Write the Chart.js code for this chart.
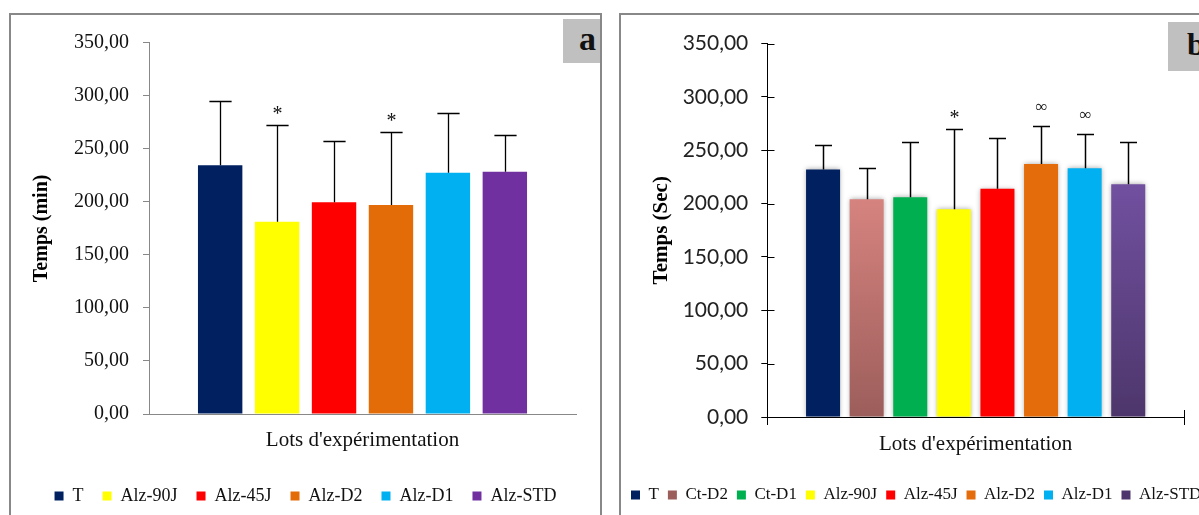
<!DOCTYPE html>
<html>
<head>
<meta charset="utf-8">
<script src="https://cdn.jsdelivr.net/npm/chart.js@4/dist/chart.umd.min.js"></script>
<style>
  html, body { margin: 0; padding: 0; background: #fff; overflow: hidden; width: 1199px; height: 515px; }
  .frame { position: absolute; border: 2px solid #888; box-sizing: border-box; }
  .tag { position: absolute; background: #c0c0c0; font-family: 'Liberation Serif', serif; font-weight: bold; color: #111; box-sizing: border-box; }
  canvas { position: absolute; }
</style>
</head>
<body>
<div class="frame" style="left:9px; top:13px; width:593px; height:540px;"></div>
<div class="frame" style="left:619px; top:13px; width:640px; height:540px;"></div>
<div class="tag" style="left:563px; top:19px; width:37px; height:44px; font-size:34px; line-height:40px; text-align:right; padding-right:4px;">a</div>
<div class="tag" style="left:1168px; top:22px; width:60px; height:49px; font-size:32px; line-height:44px; padding-left:19px;">b</div>
<canvas id="chartA" width="589" height="500" style="left:11px; top:15px;"></canvas>
<canvas id="chartB" width="640" height="500" style="left:622px; top:15px;"></canvas>
<script>
// ---- panel a : Temps (min)
const groupsA = ['T', 'Alz-90J', 'Alz-45J', 'Alz-D2', 'Alz-D1', 'Alz-STD'];
const meansA = [234.5, 181.3, 199.5, 197.0, 227.4, 228.4];
const errA = [60.8, 91.1, 58.1, 68.5, 56.0, 34.8];
const marksA = ['', '*', '', '*', '', ''];
const colorsA = ['#002060', '#ffff00', '#ff0000', '#e36c09', '#00b0f0', '#7030a0'];

// ---- panel b : Temps (Sec)
const groupsB = ['T', 'Ct-D2', 'Ct-D1', 'Alz-90J', 'Alz-45J', 'Alz-D2', 'Alz-D1', 'Alz-STD'];
const meansB = [232.0, 204.0, 206.0, 194.6, 214.0, 237.0, 233.0, 218.0];
const errB = [23.0, 29.7, 52.0, 75.4, 47.0, 35.7, 32.5, 40.0];
const marksB = ['', '', '', '*', '', '\u221e', '\u221e', ''];

const yTickLabels = ['0,00', '50,00', '100,00', '150,00', '200,00', '250,00', '300,00', '350,00'];
const xTitle = "Lots d'expérimentation";

// gradient fill for the shaded bars of panel b (lighter at top)
function fade(top, bottom) {
  return (c) => {
    const chart = c.chart;
    const area = chart.chartArea;
    if (!area || c.dataIndex === undefined) return top;
    const yTop = chart.scales.y.getPixelForValue(c.raw);
    const g = chart.ctx.createLinearGradient(0, yTop, 0, area.bottom);
    g.addColorStop(0, top);
    g.addColorStop(1, bottom);
    return g;
  };
}
const colorsB = ['#002060', fade('#d6837f', '#9c5e5b'), '#00b050', '#ffff00', '#ff0000', '#e46c0a', '#00b0f0', fade('#7150a0', '#4d366b')];

// upper error bars + significance marks
const errorBars = {
  id: 'errorBars',
  afterDatasetsDraw(chart, args, opts) {
    const { ctx, scales: { y } } = chart;
    ctx.save();
    ctx.strokeStyle = '#000';
    ctx.lineWidth = opts.width;
    chart.data.datasets.forEach((ds, i) => {
      const meta = chart.getDatasetMeta(i);
      meta.data.forEach((bar, j) => {
        const x = Math.round(bar.x) + 0.5;
        const yBar = y.getPixelForValue(ds.data[j]);
        const yTop = Math.round(y.getPixelForValue(ds.data[j] + ds.errPlus[j])) + 0.5;
        const half = bar.width / 4;
        ctx.beginPath();
        ctx.moveTo(x, yBar);
        ctx.lineTo(x, yTop);
        ctx.moveTo(x - half, yTop);
        ctx.lineTo(x + half, yTop);
        ctx.stroke();
        const mark = ds.mark;
        if (mark) {
          ctx.fillStyle = '#111';
          ctx.textAlign = 'center';
          ctx.textBaseline = 'alphabetic';
          if (mark === '*') {
            ctx.font = '20px "Liberation Serif"';
            ctx.fillText(mark, x, yTop - 6);
          } else {
            ctx.font = '17px "Liberation Serif"';
            ctx.fillText(mark, x, yTop - 15);
          }
        }
      });
    });
    ctx.restore();
  }
};

// soft grey halo round the bars (panel b)
const barShadow = {
  id: 'barShadow',
  beforeDatasetsDraw(chart) {
    const ctx = chart.ctx;
    ctx.save();
    ctx.shadowColor = 'rgba(0,0,0,0.35)';
    ctx.shadowBlur = 5;
  },
  afterDatasetsDraw(chart) {
    chart.ctx.restore();
  }
};

// tick marks that cross the axes (panel b)
const innerTicks = {
  id: 'innerTicks',
  afterDraw(chart) {
    const { ctx, chartArea, scales: { y } } = chart;
    ctx.save();
    ctx.strokeStyle = '#000';
    ctx.lineWidth = 1;
    ctx.beginPath();
    const xl = Math.round(chartArea.left) + 0.5;
    y.ticks.forEach((t, i) => {
      const py = Math.round(y.getPixelForTick(i)) + 0.5;
      ctx.moveTo(xl, py);
      ctx.lineTo(xl + 7, py);
    });
    const xr = Math.round(chartArea.right) + 0.5;
    ctx.moveTo(xr, chartArea.bottom);
    ctx.lineTo(xr, chartArea.bottom - 7);
    ctx.stroke();
    ctx.restore();
  }
};

function makeDatasets(groups, means, errs, marks, colors, barPct, catPct) {
  return groups.map((g, i) => ({
    label: g,
    data: [means[i]],
    errPlus: [errs[i]],
    mark: marks[i],
    backgroundColor: colors[i],
    borderWidth: 0,
    barPercentage: barPct,
    categoryPercentage: catPct
  }));
}

// empty right-hand scale that only reserves room, so the legend keeps the full width
function spacer(w) {
  return {
    position: 'right',
    display: true,
    ticks: { display: false },
    grid: { display: false },
    border: { display: false },
    afterFit: (s) => { s.width = w; }
  };
}

// ---- chart a
new Chart(document.getElementById('chartA').getContext('2d'), {
  type: 'bar',
  data: {
    labels: [''],
    datasets: makeDatasets(groupsA, meansA, errA, marksA, colorsA, 0.78, 0.8)
  },
  options: {
    responsive: false,
    animation: false,
    layout: { padding: { top: 27.7, right: 0, bottom: 0, left: 0 } },
    scales: {
      x: {
        ticks: { display: false },
        grid: { display: false },
        border: { display: true, color: '#888', width: 1 },
        title: {
          display: true,
          text: xTitle,
          color: '#111',
          font: { family: 'Liberation Serif', size: 21 },
          padding: { top: 0, bottom: 15.4 }
        },
        afterFit: (s) => { s.height = 54; }
      },
      y: {
        min: 0,
        max: 350,
        ticks: {
          stepSize: 50,
          padding: 14,
          color: '#111',
          font: { family: 'Liberation Serif', size: 20 },
          callback: (v, i) => yTickLabels[i]
        },
        grid: { drawOnChartArea: false, tickLength: 6, color: '#888' },
        border: { display: true, color: '#888', width: 1 },
        title: {
          display: true,
          text: 'Temps (min)',
          color: '#000',
          font: { family: 'Liberation Serif', size: 20, weight: 'bold' },
          padding: { top: 19, bottom: 0 }
        },
        afterFit: (s) => { s.width = 138; }
      },
      pad: spacer(24)
    },
    plugins: {
      legend: {
        position: 'bottom',
        align: 'center',
        labels: {
          boxWidth: 9,
          boxHeight: 9,
          padding: 19,
          color: '#111',
          font: { family: 'Liberation Serif', size: 18 }
        }
      },
      tooltip: { enabled: false },
      errorBars: { width: 1.3 }
    }
  },
  plugins: [errorBars]
});

// ---- chart b
new Chart(document.getElementById('chartB').getContext('2d'), {
  type: 'bar',
  data: {
    labels: [''],
    datasets: makeDatasets(groupsB, meansB, errB, marksB, colorsB, 0.78, 0.837)
  },
  options: {
    responsive: false,
    animation: false,
    layout: { padding: { top: 28.5, right: 0, bottom: 1.5, left: 0 } },
    scales: {
      x: {
        ticks: { display: false },
        grid: { display: true, drawOnChartArea: false, tickLength: 8, color: '#000' },
        border: { display: true, color: '#000', width: 1 },
        title: {
          display: true,
          text: xTitle,
          color: '#111',
          font: { family: 'Liberation Serif', size: 21 },
          padding: { top: 0, bottom: 20.9 }
        },
        afterFit: (s) => { s.height = 60.5; }
      },
      y: {
        min: 0,
        max: 350,
        ticks: {
          stepSize: 50,
          padding: 13,
          color: '#222',
          font: { family: 'Lato', size: 21 },
          callback: (v, i) => yTickLabels[i]
        },
        grid: { drawOnChartArea: false, tickLength: 6, color: '#000' },
        border: { display: true, color: '#000', width: 1 },
        title: {
          display: true,
          text: 'Temps (Sec)',
          color: '#000',
          font: { family: 'Liberation Serif', size: 21, weight: 'bold' },
          padding: { top: 27.4, bottom: 0 }
        },
        afterFit: (s) => { s.width = 145.3; }
      },
      pad: spacer(78)
    },
    plugins: {
      legend: {
        position: 'bottom',
        align: 'start',
        labels: {
          boxWidth: 9,
          boxHeight: 9,
          padding: 9,
          color: '#111',
          font: { family: 'Liberation Serif', size: 17 }
        }
      },
      tooltip: { enabled: false },
      errorBars: { width: 1.5 }
    }
  },
  plugins: [barShadow, errorBars, innerTicks]
});
</script>
</body>
</html>
